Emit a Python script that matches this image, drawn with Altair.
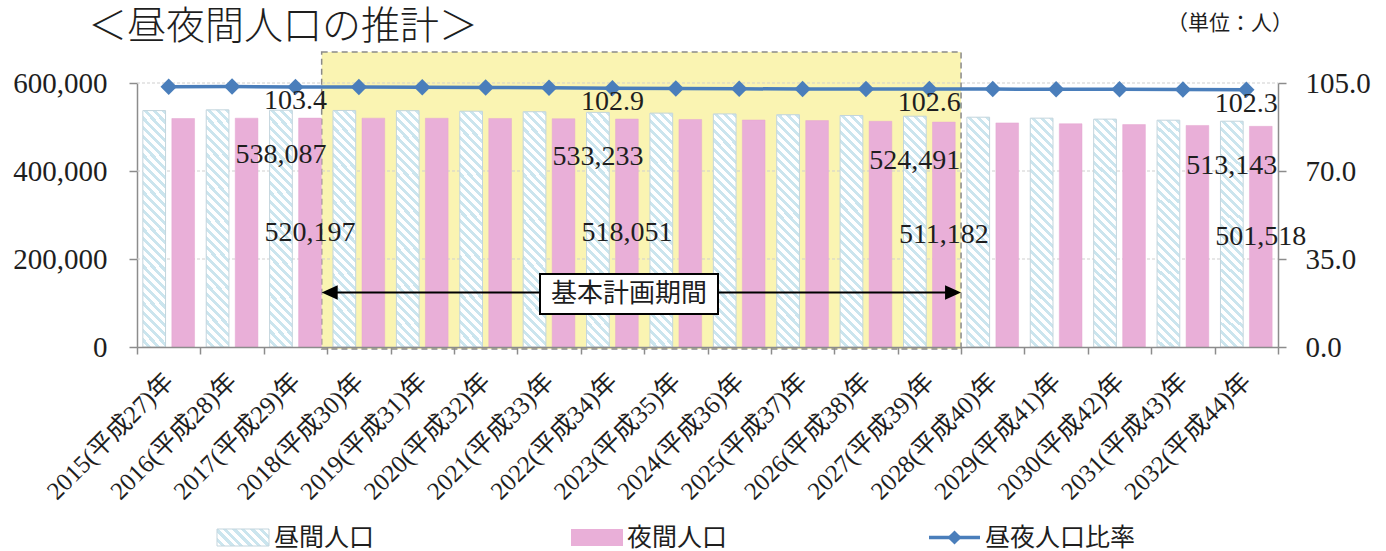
import altair as alt
import pandas as pd

# ---- data -------------------------------------------------------------
years = list(range(2015, 2033))
heisei = list(range(27, 45))
categories = [f"{y}(平成{h})年" for y, h in zip(years, heisei)]

day_pop = [537300, 539000, 538087, 537600, 537100, 535900, 534700, 533233, 531500,
           529700, 527900, 526100, 524491, 522300, 520100, 517900, 515500, 513143]
night_pop = [519300, 520000, 520197, 520100, 519900, 519400, 518800, 518051, 517100,
             515900, 514600, 513000, 511182, 509300, 507400, 505500, 503500, 501518]
ratio = [103.5, 103.6, 103.4, 103.4, 103.3, 103.2, 103.1, 102.9, 102.8,
         102.7, 102.6, 102.6, 102.6, 102.6, 102.5, 102.5, 102.4, 102.3]

labelled = ["2017(平成29)年", "2022(平成34)年", "2027(平成39)年", "2032(平成44)年"]
plan_start, plan_end = "2018(平成30)年", "2027(平成39)年"

series = ["昼間人口", "夜間人口"]
line_name = "昼夜人口比率"
title_text = "＜昼夜間人口の推計＞"
unit_text = "（単位：人）"
plan_text = "基本計画期間"

left_ticks = [0, 200000, 400000, 600000]
right_ticks = [0, 35, 70, 105]

# ---- styling ----------------------------------------------------------
W, H = 1141, 264
SERIF = "Liberation Serif, Noto Sans CJK JP"
JP = "Noto Sans CJK JP"
BLUE = "#4a7ebb"
PINK = "#e9afd8"
YELLOW = "#faf4b2"
AXIS_GRAY = "#8c8c8c"
TEXT = "#1e1e1e"


def stripe_gradient(w, h, period=9.0, frac=0.45, bg="#ffffff", fg="#cbe5ee"):
    """Diagonal (top-left to bottom-right) stripes as a hard-stop linear gradient
    laid out in the mark's bounding-box units."""
    a = w / h
    k = (a + 1) / (a * a + 1)
    p = period / (w + h)
    stops = []
    t = 0.0
    while t < 1:
        t_on = min(t + p * (1 - frac), 1.0)
        t_off = min(t + p, 1.0)
        stops += [(t, bg), (t_on, bg), (t_on, fg), (t_off, fg)]
        t += p
    return {
        "gradient": "linear",
        "x1": 0, "y1": 1, "x2": round(a * k, 5), "y2": round(1 - k, 5),
        "stops": [{"offset": round(o, 5), "color": c} for o, c in stops],
    }


bar_fill = stripe_gradient(22.7, 230)
swatch_fill = stripe_gradient(52, 17)

df = pd.DataFrame({"cat": categories, "day": day_pop, "night": night_pop, "ratio": ratio})
long = pd.concat([
    pd.DataFrame({"cat": categories, "series": series[0], "value": day_pop}),
    pd.DataFrame({"cat": categories, "series": series[1], "value": night_pop}),
])

XS = alt.Scale(domain=categories, paddingInner=0, paddingOuter=0)
YL = alt.Scale(domain=[0, 600000], nice=False)
YR = alt.Scale(domain=[0, 105], nice=False)
XOFF = alt.XOffset("series:N", scale=alt.Scale(domain=series, paddingInner=0.217, paddingOuter=0.2015))

x_axis = alt.Axis(
    labelAngle=-45, labelAlign="right", labelBaseline="middle", labelPadding=23,
    tickBand="extent", tickSize=7, tickWidth=1.5, tickColor=AXIS_GRAY,
    domainColor=AXIS_GRAY, domainWidth=1.5, labelFont=SERIF, labelFontSize=25,
    labelColor=TEXT, labelOverlap=False, labelLimit=0, grid=False,
)
left_axis = alt.Axis(
    orient="left", values=left_ticks, labelExpr="format(datum.value, ',')", grid=False,
    tickSize=8, tickWidth=1.5, tickColor=AXIS_GRAY, domainColor=AXIS_GRAY, domainWidth=1.5,
    labelPadding=22, labelFont=SERIF, labelFontSize=29, labelColor=TEXT,
)
right_axis = alt.Axis(
    orient="right", values=right_ticks, labelExpr="format(datum.value, '.1f')", grid=False,
    tickSize=8, tickWidth=1.5, tickColor=AXIS_GRAY, domainColor=AXIS_GRAY, domainWidth=1.5,
    labelPadding=19, labelFont=SERIF, labelFontSize=29, labelColor=TEXT,
)


def xcat(field="cat", **kw):
    return alt.X(f"{field}:N", scale=XS, axis=x_axis, title=None, **kw)


def yleft(field):
    return alt.Y(f"{field}:Q", scale=YL, axis=left_axis, title=None)


def yright(field):
    return alt.Y(f"{field}:Q", scale=YR, axis=right_axis, title=None)


# ---- planning-period band --------------------------------------------
plan = pd.DataFrame({"s": [plan_start], "e": [plan_end]})
band = alt.Chart(plan).mark_rect(
    fill=YELLOW, stroke="#8a8a8a", strokeDash=[6, 4], strokeWidth=1.5, xOffset=-5.5
).encode(
    x=xcat("s", bandPosition=0), x2=alt.X2("e:N", bandPosition=1),
    y=alt.value(-31), y2=alt.value(266),
)

# ---- left scale: population bars -------------------------------------
grid = alt.Chart(pd.DataFrame({"g": left_ticks[1:]})).mark_rule(
    stroke="#cfcfcf", strokeDash=[3, 2], strokeWidth=1
).encode(y=yleft("g"), x=alt.value(0), x2=alt.value(W))

base = alt.Chart(long)
day_bars = base.transform_filter(alt.datum.series == series[0]).mark_bar(
    fill=bar_fill, stroke="#c3d5dd", strokeWidth=1
).encode(x=xcat(), xOffset=XOFF, y=yleft("value"))
night_bars = base.transform_filter(alt.datum.series == series[1]).mark_bar(
    fill=PINK, stroke="#e4a6d1", strokeWidth=0.5
).encode(x=xcat(), xOffset=XOFF, y=yleft("value"))

lab_base = base.transform_filter(alt.FieldOneOfPredicate(field="cat", oneOf=labelled))
day_labels = lab_base.transform_filter(alt.datum.series == series[0]).mark_text(
    dy=45, font=SERIF, fontSize=28, color=TEXT, baseline="middle"
).encode(x=xcat(), xOffset=XOFF, y=yleft("value"),
         text=alt.Text("value:Q", format=","))
night_labels = lab_base.transform_filter(alt.datum.series == series[1]).transform_calculate(
    mid="datum.value / 2"
).mark_text(font=SERIF, fontSize=28, color=TEXT, baseline="middle").encode(
    x=xcat(), xOffset=XOFF, y=yleft("mid"),
    text=alt.Text("value:Q", format=","))

left = alt.layer(grid, day_bars, night_bars, day_labels, night_labels)

# ---- right scale: day/night ratio ------------------------------------
rbase = alt.Chart(df)
ratio_line = rbase.mark_line(color=BLUE, strokeWidth=3.5).encode(x=xcat(), y=yright("ratio"))
ratio_pts = rbase.mark_point(shape="diamond", filled=True, size=270, color=BLUE, opacity=1).encode(
    x=xcat(), y=yright("ratio"))
ratio_labels = rbase.transform_filter(alt.FieldOneOfPredicate(field="cat", oneOf=labelled)).mark_text(
    dy=14, font=SERIF, fontSize=28, color=TEXT, baseline="middle"
).encode(x=xcat(), y=yright("ratio"), text=alt.Text("ratio:Q", format=".1f"))

right = alt.layer(ratio_line, ratio_pts, ratio_labels)

# ---- double arrow with caption ---------------------------------------
ARROW_Y = 209.5
arrow = alt.Chart(plan).mark_rule(color="black", strokeWidth=2, xOffset=6.5, x2Offset=-12).encode(
    x=xcat("s", bandPosition=0), x2=alt.X2("e:N", bandPosition=1), y=alt.value(ARROW_Y))
head_l = alt.Chart(plan).mark_point(
    shape="M-1,0L1,-0.9L1,0.9Z", filled=True, size=256, color="black", opacity=1, xOffset=2.5
).encode(x=xcat("s", bandPosition=0), y=alt.value(ARROW_Y))
head_r = alt.Chart(plan).mark_point(
    shape="M1,0L-1,-0.9L-1,0.9Z", filled=True, size=256, color="black", opacity=1, xOffset=-8
).encode(x=xcat("e", bandPosition=1), y=alt.value(ARROW_Y))

caption = pd.DataFrame({"t": [plan_text]})
cap_box = alt.Chart(caption).mark_rect(fill="white", stroke="black", strokeWidth=2).encode(
    x=alt.value(403), x2=alt.value(581), y=alt.value(191), y2=alt.value(231))
cap_text = alt.Chart(caption).mark_text(font=JP, fontSize=26, color=TEXT, baseline="middle").encode(
    text="t:N", x=alt.value(492), y=alt.value(211))

# ---- titles -----------------------------------------------------------
title = alt.Chart(pd.DataFrame({"t": [title_text]})).mark_text(
    font=JP, fontSize=39, fontWeight=300, color=TEXT, align="left", baseline="top"
).encode(text="t:N", x=alt.value(-49), y=alt.value(-75))
unit = alt.Chart(pd.DataFrame({"t": [unit_text]})).mark_text(
    font=JP, fontSize=21, color=TEXT, align="left", baseline="middle"
).encode(text="t:N", x=alt.value(1030), y=alt.value(-59))

# ---- legend -----------------------------------------------------------
LEG_Y = 454.5
leg_day = alt.Chart(pd.DataFrame({"t": [series[0]]}))
leg_night = alt.Chart(pd.DataFrame({"t": [series[1]]}))
leg_line = alt.Chart(pd.DataFrame({"t": [line_name]}))
legend_layers = [
    leg_day.mark_rect(fill=swatch_fill, stroke="#c3d5dd", strokeWidth=1).encode(
        x=alt.value(80), x2=alt.value(132), y=alt.value(LEG_Y - 8.5), y2=alt.value(LEG_Y + 8.5)),
    leg_day.mark_text(font=JP, fontSize=25, color=TEXT, align="left", baseline="middle").encode(
        text="t:N", x=alt.value(137), y=alt.value(LEG_Y)),
    leg_night.mark_rect(fill=PINK).encode(
        x=alt.value(434), x2=alt.value(486), y=alt.value(LEG_Y - 8.5), y2=alt.value(LEG_Y + 8.5)),
    leg_night.mark_text(font=JP, fontSize=25, color=TEXT, align="left", baseline="middle").encode(
        text="t:N", x=alt.value(490), y=alt.value(LEG_Y)),
    leg_line.mark_rule(color=BLUE, strokeWidth=3.5).encode(
        x=alt.value(792), x2=alt.value(843), y=alt.value(LEG_Y)),
    leg_line.mark_point(shape="diamond", filled=True, size=200, color=BLUE, opacity=1).encode(
        x=alt.value(817.5), y=alt.value(LEG_Y)),
    leg_line.mark_text(font=JP, fontSize=25, color=TEXT, align="left", baseline="middle").encode(
        text="t:N", x=alt.value(848), y=alt.value(LEG_Y)),
]

chart = alt.layer(
    band, left, right, arrow, head_l, head_r, cap_box, cap_text, title, unit, *legend_layers
).resolve_scale(y="independent").properties(
    width=W, height=H,
    padding={"left": 137, "top": 83, "right": 108, "bottom": 204},
    autosize=alt.AutoSizeParams(type="none"),
    background="white",
).configure_view(stroke=None)

chart.save("out.html", embed_options={"renderer": "svg", "actions": False})
